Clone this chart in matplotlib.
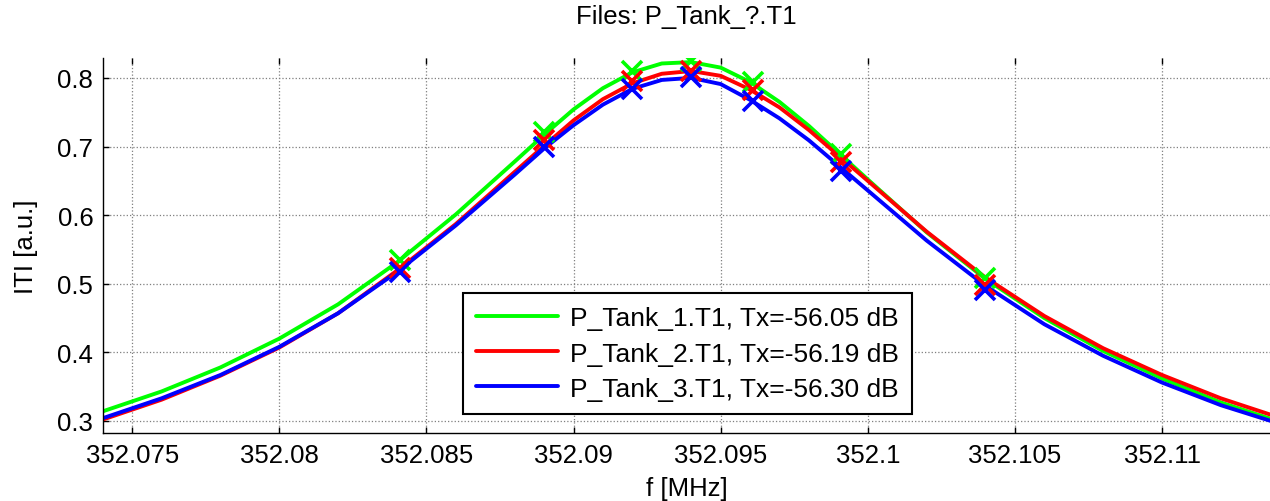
import matplotlib
matplotlib.use("Agg")
import matplotlib.pyplot as plt

plt.rcParams['font.family'] = ['Liberation Sans', 'DejaVu Sans']

# transmission magnitude vs frequency for the three tank files
freq = [352.074, 352.076, 352.078, 352.080, 352.082, 352.084, 352.086, 352.088,
        352.089, 352.090, 352.091, 352.092, 352.093, 352.094, 352.095, 352.096,
        352.097, 352.098, 352.100, 352.102, 352.104, 352.106, 352.108, 352.110,
        352.112, 352.1137]
t_tank1 = [0.314, 0.343, 0.378, 0.420, 0.470, 0.531, 0.601, 0.678,
           0.717, 0.754, 0.785, 0.808, 0.821, 0.823, 0.815, 0.794,
           0.765, 0.730, 0.652, 0.575, 0.507, 0.450, 0.402, 0.362,
           0.327, 0.303]
t_tank2 = [0.302, 0.331, 0.366, 0.407, 0.457, 0.519, 0.587, 0.663,
           0.701, 0.738, 0.769, 0.792, 0.806, 0.810, 0.803, 0.783,
           0.757, 0.724, 0.650, 0.576, 0.509, 0.453, 0.406, 0.367,
           0.333, 0.309]
t_tank3 = [0.304, 0.333, 0.367, 0.408, 0.457, 0.517, 0.585, 0.659,
           0.697, 0.731, 0.761, 0.784, 0.797, 0.800, 0.791, 0.768,
           0.741, 0.709, 0.636, 0.563, 0.497, 0.441, 0.395, 0.356,
           0.323, 0.300]

# sampled points marked with crosses
mark_freq = [352.0841, 352.0890, 352.0920, 352.0940, 352.0961, 352.0991, 352.1040]
mark_tank1 = [0.534, 0.721, 0.810, 0.824, 0.794, 0.689, 0.508]
mark_tank2 = [0.523, 0.709, 0.796, 0.810, 0.782, 0.678, 0.498]
mark_tank3 = [0.517, 0.700, 0.784, 0.801, 0.767, 0.665, 0.491]

labels = ['P_Tank_1.T1, Tx=-56.05 dB',
          'P_Tank_2.T1, Tx=-56.19 dB',
          'P_Tank_3.T1, Tx=-56.30 dB']
colors = ['#00ff00', '#ff0000', '#0000ff']
xticks = [352.075, 352.08, 352.085, 352.09, 352.095, 352.1, 352.105, 352.11]
xticklabels = ['352.075', '352.08', '352.085', '352.09', '352.095', '352.1', '352.105', '352.11']
yticks = [0.3, 0.4, 0.5, 0.6, 0.7, 0.8]

fs = 18.5

fig = plt.figure(figsize=(12.7, 5.02), dpi=100)
ax = fig.add_axes([0.0811, 0.1355, 0.9189, 0.747])

for t, c, lab in zip([t_tank1, t_tank2, t_tank3], colors, labels):
    ax.plot(freq, t, color=c, lw=2.8, label=lab, solid_capstyle='round')
for m, c in zip([mark_tank1, mark_tank2, mark_tank3], colors):
    ax.plot(mark_freq, m, ls='none', marker='x', color=c, ms=14, mew=2.6)

ax.set_xlim(352.07401, 352.11367)
ax.set_ylim(0.2825, 0.829)
ax.set_xticks(xticks)
ax.set_xticklabels(xticklabels)
ax.set_yticks(yticks)
ax.tick_params(direction='in', length=4, width=1, labelsize=fs, pad=7, top=True)

ax.grid(True, color='#7f7f7f', ls=':', lw=0.9)
for s in ['top', 'right']:
    ax.spines[s].set_visible(False)
for s in ['left', 'bottom']:
    ax.spines[s].set_linewidth(1.0)

ax.set_title('Files: P_Tank_?.T1', fontsize=fs, pad=25)
ax.set_xlabel('f [MHz]', fontsize=fs, labelpad=7)
ax.set_ylabel('ITI [a.u.]', fontsize=fs, labelpad=14)

leg = ax.legend(loc='lower left', bbox_to_anchor=(0.3085, 0.051), fontsize=19,
                fancybox=False, framealpha=1, edgecolor='black', borderaxespad=0,
                handlelength=3.1, labelspacing=0.42, borderpad=0.5, handletextpad=0.45)
leg.get_frame().set_linewidth(1.5)

fig.savefig('out.png', dpi=100)
